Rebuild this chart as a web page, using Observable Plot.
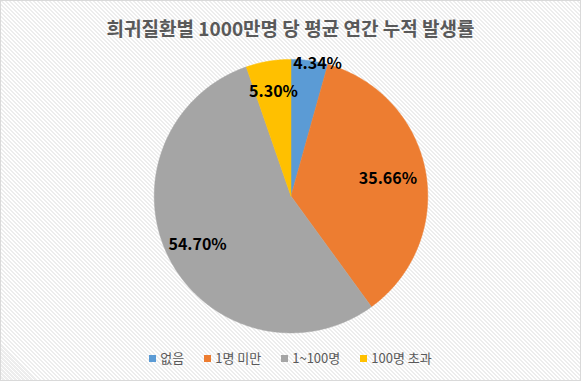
<!DOCTYPE html>
<html>
<head>
<meta charset="utf-8">
<script src="https://cdn.jsdelivr.net/npm/d3@7"></script>
<script src="https://cdn.jsdelivr.net/npm/@observablehq/plot@0.6"></script>
<style>
  html, body { margin: 0; padding: 0; background: #fff; }
  #chart {
    position: relative; width: 581px; height: 381px; box-sizing: border-box;
    border: 1px solid #d9d9d9; overflow: hidden;
    background: repeating-linear-gradient(45deg, #ffffff 0 1.4px, #ededed 1.4px 2.83px);
    font-family: "Noto Sans CJK KR", sans-serif;
  }
  #title {
    position: absolute; left: 0; top: 13px; width: 100%; text-align: center;
    font-size: 19px; font-weight: bold; color: #595959; line-height: 28px; white-space: nowrap;
  }
  #plot { position: absolute; left: -1px; top: -1px; }
  #legend {
    position: absolute; left: 0; top: 347px; width: 100%; display: flex; justify-content: center;
    font-size: 13px; color: #595959; line-height: 20px;
  }
  .item { display: flex; align-items: center; margin: 0 10px; }
  .sw { width: 7px; height: 7px; margin-right: 4px; }
</style>
</head>
<body>
<div id="chart">
  <div id="title"></div>
  <div id="plot"></div>
  <div id="legend"></div>
</div>
<script>
const title = "희귀질환별 1000만명 당 평균 연간 누적 발생률";
const categories = ["없음", "1명 미만", "1~100명", "100명 초과"];
const values = [4.34, 35.66, 54.70, 5.30];
const colors = ["#5B9BD5", "#ED7D31", "#A5A5A5", "#FFC000"];
// label placement (fraction of radius, angle shift in degrees)
const labelRadius = [0.99, 0.72, 0.77, 0.77];
const labelShift = [3.5, 0, 0, 0];

document.getElementById("title").textContent = title;

const total = d3.sum(values);
const pie = d3.pie().sort(null).value(d => d)(values);
const pts = [];
const labels = [];
pie.forEach((s, i) => {
  const n = Math.max(8, Math.ceil((s.endAngle - s.startAngle) / 0.01));
  pts.push({key: categories[i], x: 0, y: 0});
  for (let k = 0; k <= n; k++) {
    const a = s.startAngle + (s.endAngle - s.startAngle) * k / n;
    pts.push({key: categories[i], x: Math.sin(a), y: Math.cos(a)});
  }
  pts.push({key: categories[i], x: 0, y: 0});
  const m = (s.startAngle + s.endAngle) / 2 + labelShift[i] * Math.PI / 180;
  labels.push({x: Math.sin(m) * labelRadius[i], y: Math.cos(m) * labelRadius[i],
    text: (values[i] / total * 100).toFixed(2) + "%"});
});

const cx = 291, cy = 196, r = 137;
const plot = Plot.plot({
  width: 581, height: 381,
  margin: 0,
  style: {background: "transparent", overflow: "visible"},
  x: {domain: [-1, 1], range: [cx - r, cx + r], axis: null},
  y: {domain: [-1, 1], range: [cy + r, cy - r], axis: null},
  color: {domain: categories, range: colors},
  marks: [
    Plot.line(pts, {x: "x", y: "y", z: "key", fill: "key", stroke: "key", strokeWidth: 0.5, curve: "linear"}),
    Plot.text(labels, {x: "x", y: "y", text: "text", fill: "#000", fontSize: 16, fontWeight: "bold",
      fontFamily: "'Noto Sans CJK KR', sans-serif"})
  ]
});
document.getElementById("plot").appendChild(plot);

const legend = d3.select("#legend");
categories.forEach((c, i) => {
  const it = legend.append("div").attr("class", "item");
  it.append("div").attr("class", "sw").style("background", colors[i]);
  it.append("span").text(c);
});
</script>
</body>
</html>
